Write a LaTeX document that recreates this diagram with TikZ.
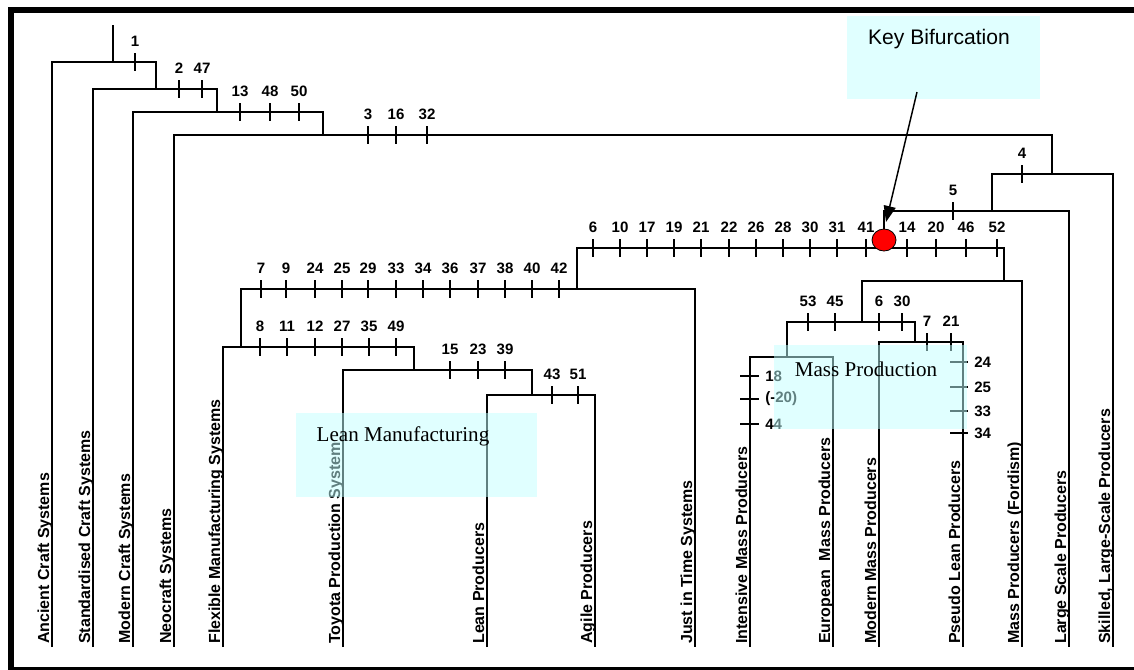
\documentclass[tikz,border=0pt]{standalone}
\usepackage{fontspec}
\setmainfont{Liberation Sans}
\newfontfamily\boxserif{Liberation Serif}
\usetikzlibrary{arrows.meta,shapes.geometric}
\definecolor{boxfill}{RGB}{193,255,255}

\newcommand\hticks[3]{%
  \foreach \x/\t [count=\i] in {#3} {
    \draw[tickmark] (\x,#1-9) -- (\x,#1+9);
    \node[num] (#2\i) at (\x,#1-21) {\t};
  }}

\begin{document}
\begin{tikzpicture}[x=0.75pt,y=-0.75pt,
  tree/.style={line width=2.1pt},
  tickmark/.style={line width=2.1pt},
  num/.style={font=\fontsize{11.3}{13}\selectfont\bfseries, inner sep=0pt},
  leaf/.style={font=\fontsize{12}{14}\selectfont\bfseries, rotate=90, anchor=base west, inner sep=0pt},
  note/.style={fill=boxfill, fill opacity=0.5, draw=none, inner sep=0pt},
  notetext/.style={font=\boxserif\fontsize{15.8}{18}\selectfont, inner sep=0pt},
  arrowline/.style={line width=1.1pt, -{Triangle[length=12pt,width=9pt]}},
  dotstyle/.style={ellipse, draw=black, line width=0.6pt, fill=red, minimum width=18pt, minimum height=16.5pt, inner sep=0pt}
]
\useasboundingbox (0,0) rectangle (1134,669);
\clip (0,0) rectangle (1134,669);

% frame
\draw[line width=4.5pt] (10.5,10) rectangle (1150,670);

% leaf bottoms
\coordinate (pAnc) at (52,647);
\coordinate (pStd) at (93,647);
\coordinate (pMod) at (133,647);
\coordinate (pNeo) at (174,647);
\coordinate (pFMS) at (223,647);
\coordinate (pTPS) at (343,647);
\coordinate (pLean) at (487,647);
\coordinate (pAgile) at (595,647);
\coordinate (pJIT) at (695,647);
\coordinate (pInt) at (750,647);
\coordinate (pEur) at (833,647);
\coordinate (pMMP) at (879,647);
\coordinate (pPseudo) at (963,647);
\coordinate (pFord) at (1022,647);
\coordinate (pLarge) at (1069,647);
\coordinate (pSkill) at (1113,647);

% junctions
\coordinate (rootTop) at (113,25);
\coordinate (jA) at (113,62);
\coordinate (jB) at (156,89);
\coordinate (jC) at (217,112);
\coordinate (jD) at (323,135);
\coordinate (jE) at (1052,174);
\coordinate (jF) at (992,211);
\coordinate (jG) at (884,248);
\coordinate (jH) at (577,289);
\coordinate (jL) at (1004,281);
\coordinate (jI) at (241,347);
\coordinate (jJ) at (414,370);
\coordinate (jK) at (532,395);
\coordinate (jM) at (862,322);
\coordinate (jN) at (787,357);
\coordinate (jO) at (915,342);

% tree
\draw[tree] (rootTop) -- (jA);
\draw[tree] (pAnc) |- (jA) -| (jB);
\draw[tree] (pStd) |- (jB) -| (jC);
\draw[tree] (pMod) |- (jC) -| (jD);
\draw[tree] (pNeo) |- (jD) -| (jE);
\draw[tree] (jF) |- (jE) -| (pSkill);
\draw[tree] (jG) |- (jF) -| (pLarge);
\draw[tree] (jH) |- (jG) -| (jL);
\draw[tree] (jI) |- (jH) -| (pJIT);
\draw[tree] (pFMS) |- (jI) -| (jJ);
\draw[tree] (pTPS) |- (jJ) -| (jK);
\draw[tree] (pLean) |- (jK) -| (pAgile);
\draw[tree] (jM) |- (jL) -| (pFord);
\draw[tree] (jN) |- (jM) -| (jO);
\draw[tree] (pInt) |- (jN) -| (pEur);
\draw[tree] (pMMP) |- (jO) -| (pPseudo);

% ticks and numbers
\hticks{62}{tA}{135/1}
\hticks{89}{tB}{179/2,202/47}
\hticks{112}{tC}{240/13,270/48,299/50}
\hticks{135}{tD}{368/3,396/16,427/32}
\hticks{174}{tE}{1022/4}
\hticks{211}{tF}{953/5}
\hticks{248}{tG}{593/6,620/10,647/17,674/19,701/21,729/22,756/26,783/28,810/30,837/31,866/41,907/14,936/20,966/46,997/52}
\hticks{289}{tH}{261/7,286/9,315/24,342/25,368/29,396/33,423/34,450/36,478/37,505/38,532/40,559/42}
\hticks{347}{tI}{260/8,287/11,315/12,342/27,369/35,396/49}
\hticks{370}{tJ}{450/15,478/23,505/39}
\hticks{395}{tK}{552/43,578/51}
\hticks{322}{tM}{808/53,835/45,879/6,902/30}
\hticks{342}{tO}{927/7,951/21}

% side ticks
\foreach \y/\t [count=\i] in {376/18,399/(-20),424/44} {
  \draw[tickmark] (740,\y) -- (759,\y);
  \node[num, anchor=west] (sI\i) at (765,\y) {\t};
}
\foreach \y/\t [count=\i] in {362/24,387/25,411/33,433/34} {
  \draw[tickmark] (950,\y) -- (968,\y);
  \node[num, anchor=west] (sP\i) at (974,\y) {\t};
}

% leaf labels
\node[leaf] (lAnc) at (49,644) {Ancient Craft Systems};
\node[leaf] (lStd) at (90,644) {Standardised Craft Systems};
\node[leaf] (lMod) at (130,644) {Modern Craft Systems};
\node[leaf] (lNeo) at (171,644) {Neocraft Systems};
\node[leaf] (lFMS) at (220,644) {Flexible Manufacturing Systems};
\node[leaf] (lTPS) at (340,644) {Toyota Production System};
\node[leaf] (lLean) at (484,644) {Lean Producers};
\node[leaf] (lAgile) at (592,644) {Agile Producers};
\node[leaf] (lJIT) at (692,644) {Just in Time Systems};
\node[leaf] (lInt) at (747,644) {Intensive Mass Producers};
\node[leaf] (lEur) at (830,644) {European\ \ Mass Producers};
\node[leaf] (lMMP) at (876,644) {Modern Mass Producers};
\node[leaf] (lPseudo) at (960,644) {Pseudo Lean Producers};
\node[leaf] (lFord) at (1019,644) {Mass Producers (Fordism)};
\node[leaf] (lLarge) at (1066,644) {Large Scale Producers};
\node[leaf] (lSkill) at (1110,644) {Skilled, Large-Scale Producers};

% translucent note boxes
\path[note] (296,413) rectangle (537,497);
\path[note] (774,345) rectangle (967,429);
\path[note] (847,16) rectangle (1040,99);
\node[notetext] (lmText) at (403,436) {Lean Manufacturing};
\node[notetext] (mpText) at (866,369) {Mass Production};
\node[font=\fontsize{15.8}{18}\selectfont, inner sep=0pt] (kbText) at (939,39) {Key Bifurcation};

% key bifurcation
\node[dotstyle] (dot) at (884,240) {};
\coordinate (astart) at (917,92);
\coordinate (atip) at (886,222);
\draw[arrowline] (astart) -- (atip);
\end{tikzpicture}
\end{document}
